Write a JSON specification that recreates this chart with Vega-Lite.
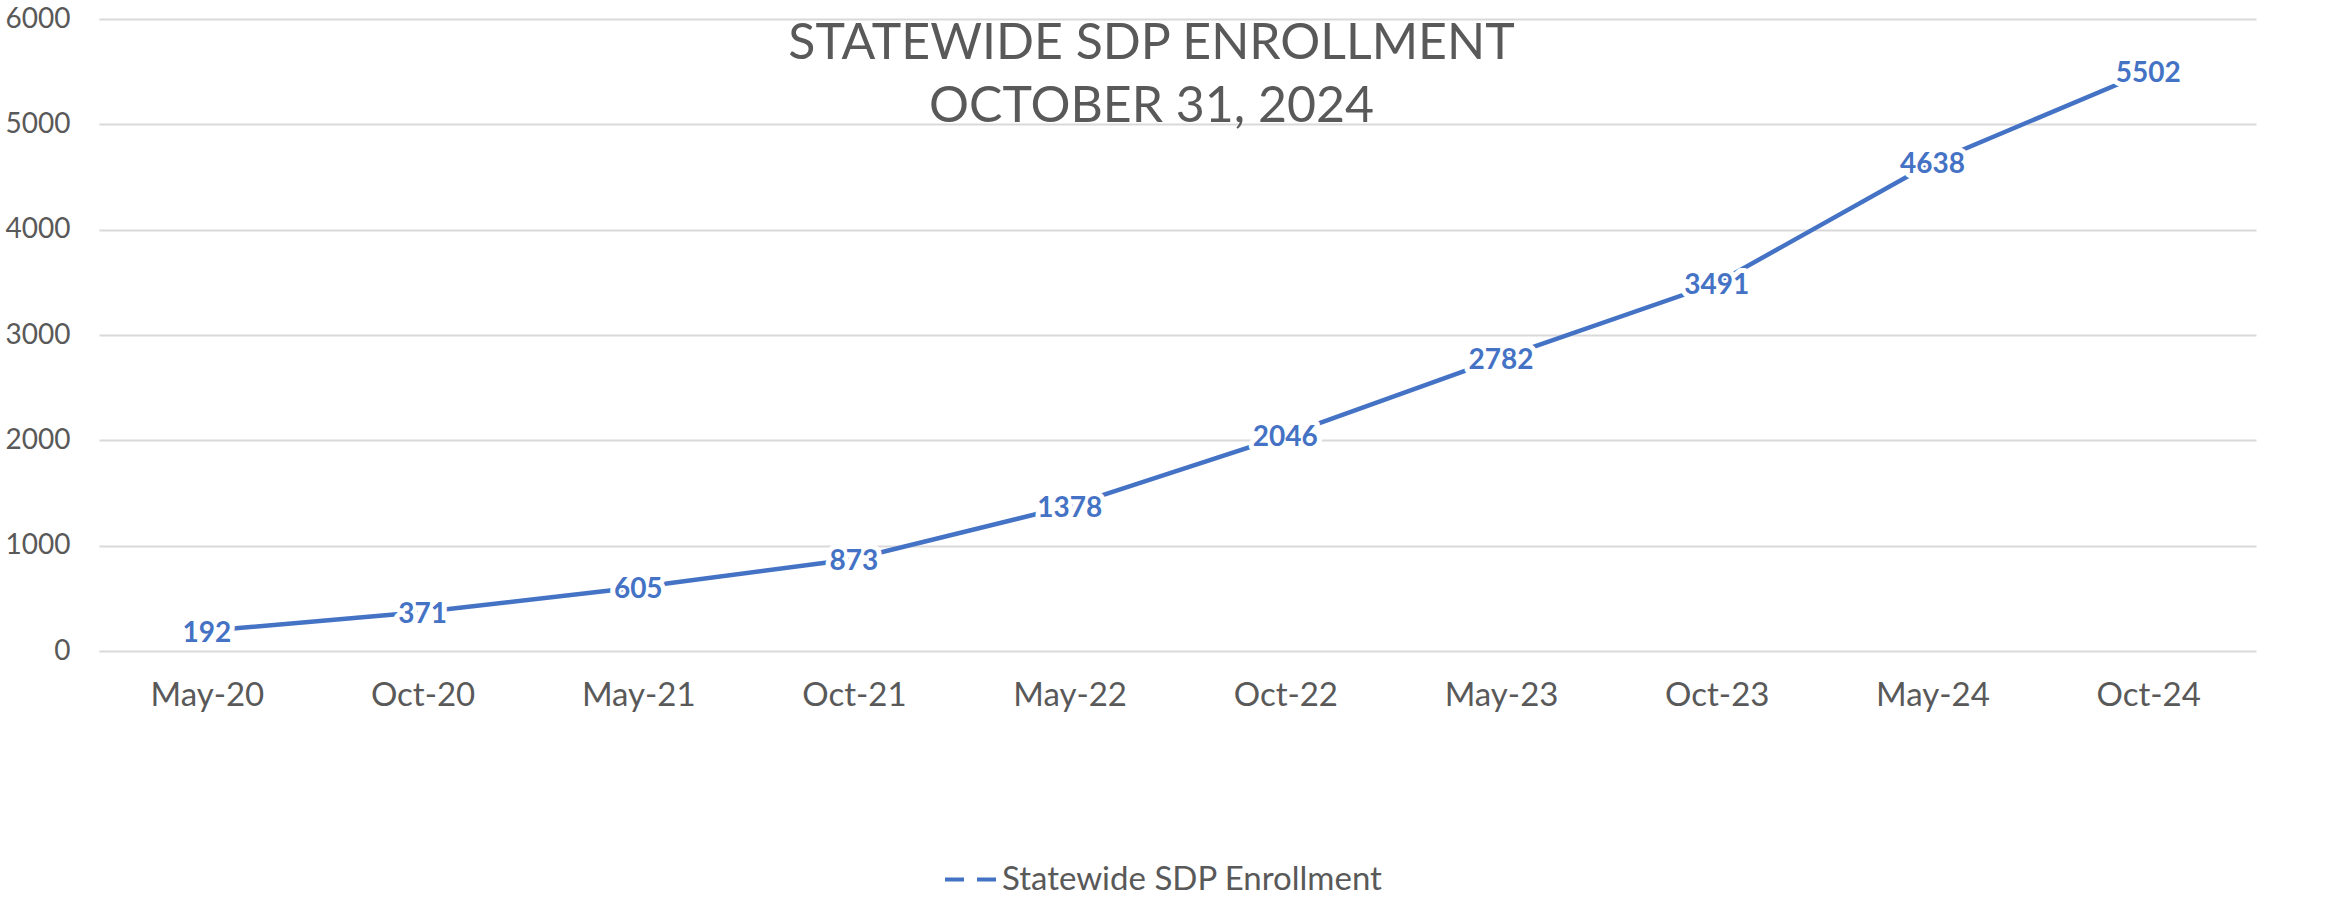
{
  "$schema": "https://vega.github.io/schema/vega-lite/v6.json",
  "autosize": {"type": "none"},
  "width": 2157,
  "height": 632,
  "padding": {"left": 99, "top": 19, "right": 70, "bottom": 262},
  "background": "white",
  "title": {
    "text": ["STATEWIDE SDP ENROLLMENT", "OCTOBER 31, 2024"],
    "orient": "top",
    "anchor": "middle",
    "baseline": "top",
    "offset": 0,
    "dy": 127,
    "dx": -26,
    "font": "Lato",
    "fontSize": 50,
    "fontWeight": "normal",
    "color": "#595959",
    "lineHeight": 63
  },
  "data": {
    "values": [
      {"date": "May-20", "enrollment": 192, "series": "Statewide SDP Enrollment"},
      {"date": "Oct-20", "enrollment": 371, "series": "Statewide SDP Enrollment"},
      {"date": "May-21", "enrollment": 605, "series": "Statewide SDP Enrollment"},
      {"date": "Oct-21", "enrollment": 873, "series": "Statewide SDP Enrollment"},
      {"date": "May-22", "enrollment": 1378, "series": "Statewide SDP Enrollment"},
      {"date": "Oct-22", "enrollment": 2046, "series": "Statewide SDP Enrollment"},
      {"date": "May-23", "enrollment": 2782, "series": "Statewide SDP Enrollment"},
      {"date": "Oct-23", "enrollment": 3491, "series": "Statewide SDP Enrollment"},
      {"date": "May-24", "enrollment": 4638, "series": "Statewide SDP Enrollment"},
      {"date": "Oct-24", "enrollment": 5502, "series": "Statewide SDP Enrollment"}
    ]
  },
  "encoding": {
    "x": {
      "field": "date",
      "type": "ordinal",
      "sort": null,
      "scale": {"type": "point", "padding": 0.5},
      "axis": {
        "title": null,
        "labelAngle": 0,
        "labelFont": "Lato",
        "labelFontSize": 33,
        "labelColor": "#595959",
        "labelPadding": 28,
        "ticks": false,
        "domain": false,
        "grid": false
      }
    },
    "y": {
      "field": "enrollment",
      "type": "quantitative",
      "scale": {"domain": [0, 6000], "nice": false},
      "axis": {
        "title": null,
        "values": [0, 1000, 2000, 3000, 4000, 5000, 6000],
        "format": "d",
        "labelFont": "Lato",
        "labelFontSize": 28,
        "labelColor": "#595959",
        "labelPadding": 29,
        "ticks": false,
        "domain": false,
        "grid": true,
        "gridColor": "#D9D9D9",
        "gridWidth": 2
      }
    }
  },
  "layer": [
    {
      "mark": {"type": "line", "strokeWidth": 4.5},
      "encoding": {
        "color": {
          "field": "series",
          "type": "nominal",
          "scale": {"range": ["#4472C4"]},
          "legend": {
            "title": null,
            "orient": "none",
            "legendX": 844,
            "legendY": 833,
            "symbolType": "stroke",
            "symbolSize": 2601,
            "symbolStrokeWidth": 4,
            "symbolDash": [19, 13],
            "labelFont": "Lato",
            "labelFontSize": 33,
            "labelColor": "#595959",
            "labelOffset": 4,
            "labelLimit": 0
          }
        }
      }
    },
    {
      "mark": {"type": "text", "font": "Lato", "fontSize": 28, "fontWeight": "bold", "stroke": "white", "strokeWidth": 10, "fill": "white", "strokeJoin": "round", "dy": 3},
      "encoding": {"text": {"field": "enrollment", "type": "quantitative", "format": "d"}}
    },
    {
      "mark": {"type": "text", "font": "Lato", "fontSize": 28, "fontWeight": "bold", "color": "#4472C4", "dy": 3},
      "encoding": {"text": {"field": "enrollment", "type": "quantitative", "format": "d"}}
    }
  ],
  "config": {
    "view": {"stroke": null}
  }
}
